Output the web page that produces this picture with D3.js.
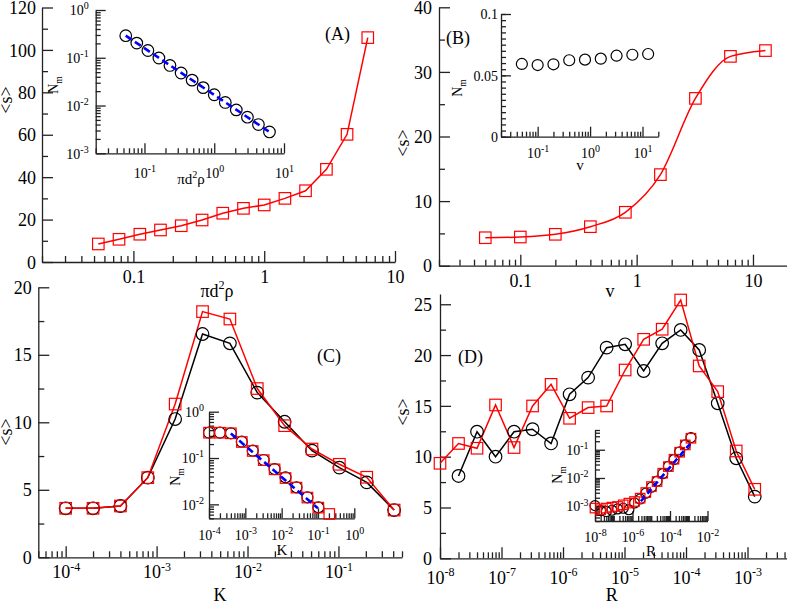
<!DOCTYPE html>
<html><head><meta charset="utf-8">
<script src="https://cdn.jsdelivr.net/npm/d3@7"></script>
<style>
body{margin:0;background:#fff}
svg{display:block}
text, tspan{font-family:"Liberation Serif","Times New Roman",serif;fill:#000}
</style>
</head><body>
<svg id="c" width="787" height="603" font-family="Liberation Serif, serif"></svg>
<script>
// ---------------- data ----------------
// Panel A
const aX = [0.0539, 0.0776, 0.112, 0.161, 0.232, 0.335, 0.482, 0.694, 1.0, 1.44, 2.07, 2.99, 4.30, 6.19];
const aS = [8.5, 10.7, 13.1, 15.1, 17.1, 19.8, 23.0, 25.3, 26.9, 30.0, 33.6, 43.7, 60.2, 105.8];
const aN = [0.290, 0.203, 0.142, 0.099, 0.069, 0.048, 0.034, 0.0237, 0.0168, 0.0116, 0.0081, 0.0057, 0.0040, 0.0028];
const aFitX = [0.0539, 6.19];
const aFitN = [0.29, 0.0028];
// Panel B
const bX = [0.05, 0.1, 0.2, 0.4, 0.8, 1.6, 3.2, 6.4, 12.8];
const bS = [4.33, 4.44, 4.86, 6.04, 8.27, 14.1, 25.9, 32.4, 33.3];
const bN = [0.0593, 0.0584, 0.0590, 0.0623, 0.0628, 0.0636, 0.0660, 0.0668, 0.0674];
// Panel C
const cK = [1e-4, 2e-4, 4e-4, 8e-4, 1.6e-3, 3.2e-3, 6.4e-3, 1.28e-2, 2.56e-2, 5.12e-2, 0.1024, 0.2048, 0.4096];
const cBlack = [3.63, 3.63, 3.8, 5.9, 10.24, 16.54, 15.85, 12.2, 10.04, 7.9, 6.64, 5.55, 3.5];
const cRed = [3.63, 3.63, 3.8, 5.9, 11.35, 18.2, 17.65, 12.5, 9.75, 8.02, 6.89, 5.93, 3.5];
const cNBlack = [0.352, 0.352, 0.342, 0.225, 0.144, 0.0906, 0.0578, 0.0383, 0.0233, 0.0142, 0.0086];
const cNRed = [0.352, 0.352, 0.342, 0.222, 0.142, 0.090, 0.057, 0.037, 0.023, 0.014, 0.0085, 0.0062];
const cFitK = [4e-4, 0.1];
const cFitN = [0.34, 0.0082];
// Panel D
const dR = [1e-8, 2e-8, 4e-8, 8e-8, 1.6e-7, 3.2e-7, 6.4e-7, 1.28e-6, 2.56e-6, 5.12e-6, 1.024e-5, 2.048e-5, 4.096e-5, 8.192e-5, 1.6384e-4, 3.2768e-4, 6.5536e-4, 1.31072e-3];
const dBlack = [null, 8.1, 12.46, 10.0, 12.46, 12.7, 11.3, 16.14, 17.78, 20.73, 21.06, 18.43, 21.16, 22.47, 20.5, 15.25, 9.84, 6.07];
const dRed = [9.35, 11.3, 10.83, 15.09, 10.9, 14.99, 17.12, 13.78, 14.83, 14.99, 18.53, 21.55, 22.54, 25.42, 18.93, 16.4, 10.56, 6.79];
const dNBlack = [1.05e-3, 7e-4, 6.5e-4, 7.2e-4, 8e-4, 8.5e-4, 7.5e-4, 1.3e-3, 1.8e-3, 2.9e-3, 4.7e-3, 7.8e-3, 0.0142, 0.026, 0.045, 0.085, 0.15, 0.27];
const dNRed = [8.6e-4, 7.5e-4, 8.6e-4, 9.3e-4, 9.8e-4, 1.12e-3, 1.29e-3, 1.47e-3, 1.93e-3, 3.05e-3, 4.97e-3, 7.5e-3, 0.0148, 0.0253, 0.0462, 0.0816, 0.148, 0.255];
const dFitR = [2.8e-6, 1.15e-3];
const dFitN = [1.5e-3, 0.16];

// tick values / labels
const aXTicks = [0.1, 1, 10], aXLabels = ["0.1", "1", "10"];
const aYTicks = [0, 20, 40, 60, 80, 100, 120], aYLabels = ["0", "20", "40", "60", "80", "100", "120"];
const aYMinor = [10, 30, 50, 70, 90, 110];
const bXTicks = [0.1, 1, 10], bXLabels = ["0.1", "1", "10"];
const bYTicks = [0, 10, 20, 30, 40], bYLabels = ["0", "10", "20", "30", "40"];
const bYMinor = [5, 15, 25, 35];
const cXTicks = [1e-4, 1e-3, 1e-2, 1e-1], cXExp = ["-4", "-3", "-2", "-1"];
const cYTicks = [0, 5, 10, 15, 20], cYLabels = ["0", "5", "10", "15", "20"];
const cYMinor = [2.5, 7.5, 12.5, 17.5];
const dXTicks = [1e-8, 1e-7, 1e-6, 1e-5, 1e-4, 1e-3], dXExp = ["-8", "-7", "-6", "-5", "-4", "-3"];
const dYTicks = [0, 5, 10, 15, 20, 25], dYLabels = ["0", "5", "10", "15", "20", "25"];
const dYMinor = [2.5, 7.5, 12.5, 17.5, 22.5];
const aiXTicks = [0.1, 1, 10], aiXExp = ["-1", "0", "1"];
const aiYTicks = [1e-3, 1e-2, 1e-1, 1], aiYExp = ["-3", "-2", "-1", "0"];
const biXTicks = [0.1, 1, 10], biXExp = ["-1", "0", "1"];
const biYTicks = [0, 0.05, 0.1], biYLabels = ["0", "0.05", "0.1"];
const ciXTicks = [1e-4, 1e-3, 1e-2, 1e-1, 1], ciXExp = ["-4", "-3", "-2", "-1", "0"];
const ciYTicks = [1e-2, 1e-1, 1], ciYExp = ["-2", "-1", "0"];
const diXTicks = [1e-8, 1e-6, 1e-4, 1e-2], diXExp = ["-8", "-6", "-4", "-2"];
const diYTicks = [1e-3, 1e-2, 1e-1], diYExp = ["-3", "-2", "-1"];

// ---------------- helpers ----------------
const FONT = "Liberation Serif, Times New Roman, serif";
const svg = d3.select("#c");
const AX = "#222";
const RED = "#ff0000";

function logMinors(lo, hi, extra) {
  const out = [];
  for (let e = Math.floor(Math.log10(lo)) - 1; e <= Math.ceil(Math.log10(hi)); e++) {
    for (let m = 2; m <= 9; m++) {
      const v = m * Math.pow(10, e);
      if (v >= lo * 0.999 && v <= hi * 1.001) out.push(v);
    }
  }
  return out.concat(extra || []);
}
function linMinors(lo, hi, step) {
  return d3.range(lo, hi + step / 2, step);
}

function setLabel(sel, lab, o) {
  sel.text(null);
  if (o.pow) {
    sel.append("tspan").text("10");
    sel.append("tspan").attr("font-size", o.sup).attr("dy", -o.fs * 0.42).text(lab);
  } else sel.text(lab);
}

function drawX(sx, y0, ticks, labels, o) {
  const g = svg.append("g").attr("transform", `translate(0,${y0})`);
  g.call(d3.axisBottom(sx).tickValues(o.minors).tickSize(-o.min).tickSizeOuter(0).tickFormat(""));
  g.selectAll(".tick text").remove();
  const gm = svg.append("g").attr("transform", `translate(0,${y0})`);
  gm.call(d3.axisBottom(sx).tickValues(ticks).tickSize(-o.maj).tickSizeOuter(0).tickFormat(""));
  gm.attr("font-family", FONT).attr("font-size", o.fs);
  gm.select(".domain").remove();
  gm.selectAll(".tick text").attr("y", o.lab).attr("dy", null).attr("font-size", o.fs)
    .attr("font-family", FONT)
    .each(function (d, i) { setLabel(d3.select(this), labels[i], o); });
  [g, gm].forEach(s => s.selectAll("line,path").attr("stroke", AX).attr("stroke-width", o.sw || 1.3));
}
function drawY(sy, x0, ticks, labels, o) {
  const g = svg.append("g").attr("transform", `translate(${x0},0)`);
  g.call(d3.axisLeft(sy).tickValues(o.minors).tickSize(-o.min).tickSizeOuter(0).tickFormat(""));
  g.selectAll(".tick text").remove();
  const gm = svg.append("g").attr("transform", `translate(${x0},0)`);
  gm.call(d3.axisLeft(sy).tickValues(ticks).tickSize(-o.maj).tickSizeOuter(0).tickFormat(""));
  gm.attr("font-family", FONT).attr("font-size", o.fs);
  gm.select(".domain").remove();
  gm.selectAll(".tick text").attr("x", -o.lab).attr("dy", "0.34em").attr("font-size", o.fs)
    .attr("font-family", FONT).attr("text-anchor", "end")
    .each(function (d, i) { setLabel(d3.select(this), labels[i], o); });
  [g, gm].forEach(s => s.selectAll("line,path").attr("stroke", AX).attr("stroke-width", o.sw || 1.3));
}

// rich text: parts [{t, sup|sub}]
function rich(x, y, parts, fs, rot, anchor) {
  const t = svg.append("text").attr("font-size", fs).attr("font-family", FONT)
    .attr("text-anchor", anchor || "middle")
    .attr("transform", `translate(${x},${y})` + (rot ? " rotate(-90)" : ""));
  let shift = 0;
  parts.forEach(p => {
    let target = p.sup ? -fs * 0.42 : p.sub ? fs * 0.28 : 0;
    const ts = t.append("tspan").text(p.t).attr("dy", target - shift);
    if (p.sup || p.sub) ts.attr("font-size", fs * 0.68);
    shift = target;
  });
  return t;
}

function pts(xs, ys) { return xs.map((x, i) => [x, ys[i]]).filter(p => p[1] != null); }
function drawLine(sx, sy, xs, ys, color, o) {
  o = o || {};
  const gen = d3.line().x(d => sx(d[0])).y(d => sy(d[1])).curve(o.curve || d3.curveLinear);
  svg.append("path").datum(pts(xs, ys)).attr("d", gen).attr("fill", "none")
    .attr("stroke", color).attr("stroke-width", o.w || 1.5)
    .attr("stroke-dasharray", o.dash || null);
}
function drawCircles(sx, sy, xs, ys, r) {
  svg.append("g").selectAll("circle").data(pts(xs, ys)).join("circle")
    .attr("cx", d => sx(d[0])).attr("cy", d => sy(d[1])).attr("r", r)
    .attr("fill", "none").attr("stroke", "#000").attr("stroke-width", 1.2);
}
function drawSquares(sx, sy, xs, ys, s) {
  svg.append("g").selectAll("rect").data(pts(xs, ys)).join("rect")
    .attr("x", d => sx(d[0]) - s / 2).attr("y", d => sy(d[1]) - s / 2)
    .attr("width", s).attr("height", s)
    .attr("fill", "none").attr("stroke", RED).attr("stroke-width", 1.2);
}

const MAIN = { maj: 11, min: 6, fs: 18, sup: 12 };
const INS = { maj: 10, min: 5, fs: 14, sup: 10 };

// ---------------- Panel A ----------------
{
  const sx = d3.scaleLog().domain([0.02, 10]).range([42, 395]);
  const sy = d3.scaleLinear().domain([0, 120]).range([262, 7.5]);
  drawX(sx, 262, aXTicks, aXLabels, { ...MAIN, minors: logMinors(0.02, 10), lab: 21 });
  drawY(sy, 42, aYTicks, aYLabels, { ...MAIN, minors: aYMinor, lab: 6 });
  drawLine(sx, sy, aX, aS, RED);
  drawSquares(sx, sy, aX, aS, 11.5);
  svg.append("text").attr("x", 325).attr("y", 40).attr("font-size", 18).attr("font-family", FONT).text("(A)");
  rich(217, 297, [{ t: "πd" }, { t: "2", sup: 1 }, { t: "ρ" }], 18);
  rich(12, 100, [{ t: "<s>" }], 18, true);
  // inset
  const ix = d3.scaleLog().domain([0.02, 10]).range([95.7, 284]);
  const iy = d3.scaleLog().domain([1e-3, 1]).range([153.3, 10]);
  drawX(ix, 153.3, aiXTicks, aiXExp, { ...INS, pow: 1, minors: logMinors(0.02, 10), lab: 24.5 });
  drawY(iy, 95.7, aiYTicks, aiYExp, { ...INS, pow: 1, minors: logMinors(1e-3, 1), lab: 7 });
  drawCircles(ix, iy, aX, aN, 5.8);
  drawLine(ix, iy, aFitX, aFitN, "#0000ff", { w: 2.6, dash: "7,4" });
  rich(191, 184, [{ t: "πd" }, { t: "2", sup: 1 }, { t: "ρ" }], 15);
  rich(58, 85, [{ t: "N" }, { t: "m", sub: 1 }], 14, true);
}

// ---------------- Panel B ----------------
{
  const sx = d3.scaleLog().domain([0.02, 20]).range([439, 788]);
  const sy = d3.scaleLinear().domain([0, 40]).range([265.7, 7.3]);
  drawX(sx, 265.7, bXTicks, bXLabels, { ...MAIN, minors: logMinors(0.02, 20), lab: 21 });
  drawY(sy, 439, bYTicks, bYLabels, { ...MAIN, minors: bYMinor, lab: 7 });
  drawLine(sx, sy, bX, bS, RED, { curve: d3.curveMonotoneX });
  drawSquares(sx, sy, bX, bS, 11.5);
  svg.append("text").attr("x", 446).attr("y", 44).attr("font-size", 18).attr("font-family", FONT).text("(B)");
  rich(610, 297, [{ t: "v" }], 18);
  rich(409, 143, [{ t: "<s>" }], 18, true);
  // inset
  const ix = d3.scaleLog().domain([0.02, 20]).range([501, 658.3]);
  const iy = d3.scaleLinear().domain([0, 0.1]).range([136.7, 14]);
  drawX(ix, 136.7, biXTicks, biXExp, { ...INS, pow: 1, minors: logMinors(0.02, 20), lab: 21.6 });
  drawY(iy, 501, biYTicks, biYLabels, { ...INS, minors: linMinors(0, 0.1, 0.005), lab: 3 });
  drawCircles(ix, iy, bX, bN, 5.5);
  rich(580, 170, [{ t: "v" }], 15);
  rich(462, 88, [{ t: "N" }, { t: "m", sub: 1 }], 14, true);
}

// ---------------- Panel C ----------------
{
  const sx = d3.scaleLog().domain([5e-5, 0.5]).range([38.3, 402]);
  const sy = d3.scaleLinear().domain([0, 20]).range([557.3, 287.3]);
  drawX(sx, 557.3, cXTicks, cXExp, { ...MAIN, pow: 1, minors: logMinors(5e-5, 0.5), lab: 21 });
  drawY(sy, 38.3, cYTicks, cYLabels, { ...MAIN, minors: cYMinor, lab: 6.5 });
  drawLine(sx, sy, cK, cBlack, "#000");
  drawLine(sx, sy, cK, cRed, RED);
  drawCircles(sx, sy, cK, cBlack, 6.3);
  drawSquares(sx, sy, cK, cRed, 11.5);
  svg.append("text").attr("x", 317).attr("y", 362).attr("font-size", 18).attr("font-family", FONT).text("(C)");
  rich(220, 601, [{ t: "K" }], 18);
  rich(12, 432, [{ t: "<s>" }], 18, true);
  // inset
  const ix = d3.scaleLog().domain([1e-4, 1]).range([209, 354.3]);
  const iy = d3.scaleLog().domain([0.005, 1]).range([518.3, 411.7]);
  drawX(ix, 518.3, ciXTicks, ciXExp, { ...INS, pow: 1, minors: logMinors(1e-4, 1), lab: 21.7 });
  drawY(iy, 209, ciYTicks, ciYExp, { ...INS, pow: 1, minors: logMinors(0.005, 1), lab: 5 });
  drawCircles(ix, iy, cK, cNBlack, 5.5);
  drawSquares(ix, iy, cK, cNRed, 10.5);
  drawLine(ix, iy, cFitK, cFitN, "#0000ff", { w: 2.6, dash: "7,4" });
  rich(282, 555, [{ t: "K" }], 15);
  rich(180, 477, [{ t: "N" }, { t: "m", sub: 1 }], 14, true);
}

// ---------------- Panel D ----------------
{
  const sx = d3.scaleLog().domain([1e-8, 5e-3]).range([440, 790.5]);
  const sy = d3.scaleLinear().domain([0, 26]).range([558.3, 294.1]);
  drawX(sx, 558.3, dXTicks, dXExp, { ...MAIN, pow: 1, minors: logMinors(1e-8, 5e-3), lab: 25.5 });
  drawY(sy, 440, dYTicks, dYLabels, { ...MAIN, minors: dYMinor, lab: 8 });
  drawLine(sx, sy, dR, dBlack, "#000");
  drawLine(sx, sy, dR, dRed, RED);
  drawCircles(sx, sy, dR, dBlack, 6.3);
  drawSquares(sx, sy, dR, dRed, 11.5);
  svg.append("text").attr("x", 458).attr("y", 363).attr("font-size", 18).attr("font-family", FONT).text("(D)");
  rich(611.7, 601, [{ t: "R" }], 18);
  rich(409, 412, [{ t: "<s>" }], 18, true);
  // inset
  const ix = d3.scaleLog().domain([1e-8, 1e-2]).range([595, 707.5]);
  const iy = d3.scaleLog().domain([3e-4, 0.5]).range([521, 430]);
  drawX(ix, 521, diXTicks, diXExp, { ...INS, pow: 1, minors: logMinors(1e-8, 1e-2, [1e-7, 1e-5, 1e-3]), lab: 20.7 });
  drawY(iy, 595, diYTicks, diYExp, { ...INS, pow: 1, minors: logMinors(3e-4, 0.5), lab: 6.5 });
  drawCircles(ix, iy, dR, dNBlack, 5);
  drawSquares(ix, iy, dR, dNRed, 9.5);
  drawLine(ix, iy, dFitR, dFitN, "#0000ff", { w: 2.6, dash: "6,4" });
  rich(651, 556, [{ t: "R" }], 15);
  rich(562, 475, [{ t: "N" }, { t: "m", sub: 1 }], 14, true);
}
</script>
</body></html>
